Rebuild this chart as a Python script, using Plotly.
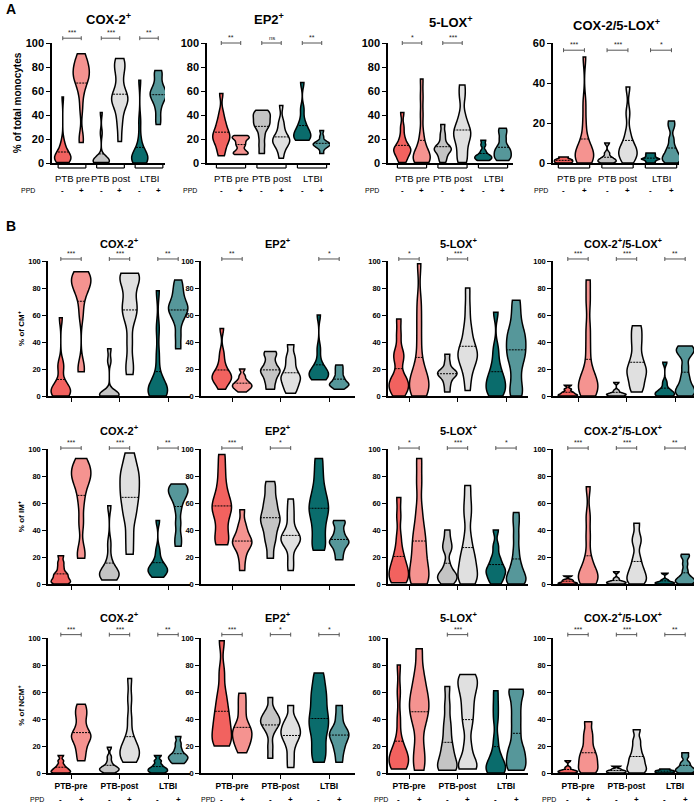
import plotly.graph_objects as go

W, H = 696, 803

groups_a = ["PTB pre", "PTB post", "LTBI"]
groups_b = ["PTB-pre", "PTB-post", "LTBI"]
ppd_signs = ["-", "+"]

titles_a = ["COX-2<sup>+</sup>", "EP2<sup>+</sup>", "5-LOX<sup>+</sup>", "COX-2/5-LOX<sup>+</sup>"]
titles_b = ["COX-2<sup>+</sup>", "EP2<sup>+</sup>", "5-LOX<sup>+</sup>", "COX-2<sup>+</sup>/5-LOX<sup>+</sup>"]
ytitles = ["% of total monocytes", "% of CM<sup>+</sup>", "% of IM<sup>+</sup>", "% of NCM<sup>+</sup>"]

# each panel: [PTB pre -, PTB pre +, PTB post -, PTB post +, LTBI -, LTBI +]
a_cox2 = [
    [0.5, 1, 2, 3, 3, 4, 4, 5, 5, 6, 7, 8, 10, 16, 17, 55],
    [17, 22, 45, 57, 63, 68, 70, 72, 73, 75, 78, 80, 82, 85, 88, 91],
    [0.5, 1, 1, 1.5, 2, 2, 2.5, 3, 3, 25, 42],
    [18, 30, 38, 45, 50, 52, 53, 55, 58, 62, 70, 77, 80, 85, 87],
    [0, 1, 2, 3, 4, 4, 5, 6, 8, 12, 20, 35, 69],
    [32, 38, 45, 50, 53, 55, 57, 58, 60, 62, 65, 70, 75, 77],
]
a_ep2 = [
    [6, 10, 15, 18, 20, 22, 23, 25, 28, 32, 35, 42, 58],
    [7, 8, 9, 11, 14, 16, 18, 20, 21, 22, 23],
    [8, 15, 22, 28, 31, 33, 35, 38, 40, 42, 44],
    [4, 10, 14, 16, 18, 19, 20, 22, 25, 30, 35, 48],
    [19, 20, 21, 23, 25, 27, 30, 35, 45, 67],
    [8, 12, 14, 15, 15, 16, 17, 18, 22, 27],
]
a_lox = [
    [0.5, 3, 6, 9, 10, 11, 12, 14, 17, 22, 30, 42],
    [0.5, 1, 2, 4, 5, 6, 8, 12, 17, 25, 40, 55, 70],
    [0.5, 4, 7, 10, 11, 12, 13, 15, 20, 25, 32],
    [0.5, 5, 12, 18, 22, 25, 28, 32, 40, 55, 65],
    [2, 3, 4, 5, 6, 7, 10, 15, 19],
    [2, 4, 6, 8, 10, 12, 15, 20, 25, 29],
]
a_dual = [
    [0, 0.5, 1, 1.5, 2, 3],
    [0, 1, 2, 3, 4, 5, 6, 8, 12, 20, 30, 53],
    [0, 0.5, 1, 1.5, 2, 3, 5, 10],
    [0, 2, 4, 5, 6, 8, 10, 15, 25, 38],
    [0, 1, 2, 2, 3, 4, 5],
    [0, 1, 2, 3, 4, 6, 8, 12, 18, 21],
]
cm_cox2 = [
    [0, 1, 2, 3, 4, 5, 7, 10, 22, 23, 58],
    [18, 22, 60, 72, 78, 82, 84, 86, 88, 90, 92],
    [0, 0.5, 1, 1, 1.5, 2, 26, 35],
    [16, 25, 40, 55, 62, 65, 70, 78, 85, 88, 90, 91],
    [0, 1, 2, 4, 5, 6, 8, 15, 30, 50, 78],
    [35, 45, 55, 60, 63, 65, 67, 70, 75, 80, 86],
]
cm_ep2 = [
    [5, 9, 12, 13, 14, 15, 17, 20, 25, 32, 50],
    [3, 5, 6, 7, 8, 9, 10, 12, 15, 20],
    [5, 10, 14, 17, 19, 21, 25, 30, 33],
    [2, 6, 9, 12, 14, 16, 20, 25, 30, 38],
    [12, 13, 15, 16, 17, 18, 20, 25, 35, 60],
    [5, 7, 8, 9, 10, 12, 14, 17, 20, 23],
]
cm_lox = [
    [0, 3, 5, 8, 10, 12, 15, 25, 30, 33, 45, 57],
    [0, 2, 5, 8, 10, 13, 17, 25, 40, 55, 70, 98],
    [3, 8, 12, 15, 16, 17, 18, 20, 25, 31],
    [4, 15, 22, 27, 30, 31, 33, 38, 45, 52, 65, 80],
    [0, 2, 5, 8, 11, 14, 18, 25, 35, 62],
    [0, 5, 15, 25, 30, 35, 40, 45, 50, 60, 71],
]
cm_dual = [
    [0, 0.5, 1, 2, 3, 5, 8],
    [0, 2, 5, 8, 10, 13, 20, 35, 50, 70, 86],
    [0, 0.5, 1, 1.5, 2, 4, 10],
    [3, 8, 13, 17, 20, 24, 30, 38, 45, 52],
    [0, 0.5, 1, 2, 3, 5, 10, 25],
    [0, 2, 4, 6, 10, 15, 22, 30, 33, 35, 37],
]
im_cox2 = [
    [0, 1, 2, 3, 5, 7, 8, 12, 16, 21],
    [19, 25, 45, 60, 70, 76, 79, 82, 85, 88, 93],
    [3, 5, 6, 7, 8, 9, 11, 18, 30, 58],
    [22, 35, 48, 55, 62, 67, 72, 78, 82, 88, 97],
    [5, 7, 9, 10, 11, 12, 14, 18, 25, 47],
    [28, 35, 45, 55, 62, 65, 68, 70, 72, 74],
]
im_ep2 = [
    [29, 32, 38, 45, 52, 55, 58, 62, 67, 75, 85, 96],
    [10, 18, 24, 28, 30, 31, 33, 36, 40, 45, 55],
    [19, 30, 36, 42, 47, 48, 52, 58, 62, 70, 76],
    [10, 18, 28, 31, 33, 34, 36, 40, 48, 55, 63],
    [25, 30, 38, 45, 52, 55, 60, 65, 72, 82, 93],
    [18, 23, 27, 30, 31, 33, 36, 40, 45, 47],
]
im_lox = [
    [1, 2, 4, 7, 10, 12, 15, 20, 25, 35, 50, 64],
    [0, 2, 5, 10, 15, 22, 28, 35, 42, 55, 75, 93],
    [0, 2, 4, 6, 7, 9, 15, 25, 28, 33, 40],
    [0, 3, 6, 10, 15, 20, 25, 35, 50, 60, 73],
    [0, 3, 6, 9, 10, 12, 16, 20, 28, 40],
    [0, 1, 3, 5, 8, 12, 17, 25, 35, 45, 53],
]
im_dual = [
    [0, 0.5, 1, 2, 3, 6],
    [0, 2, 4, 6, 8, 12, 20, 35, 50, 72],
    [0, 0.5, 1, 1.5, 2, 4, 9],
    [0, 2, 4, 7, 10, 14, 20, 30, 35, 45],
    [0, 0.5, 1, 1.5, 3, 8],
    [0, 1, 2, 3, 4, 6, 10, 15, 20, 22],
]
ncm_cox2 = [
    [0, 0.5, 1, 2, 3, 4, 6, 9, 13],
    [9, 15, 20, 24, 27, 28, 31, 36, 42, 46, 51],
    [0, 1, 2, 3, 3, 4, 5, 8, 12, 19],
    [8, 10, 12, 15, 17, 19, 22, 28, 40, 55, 70],
    [0, 1, 2, 3, 4, 6, 9, 13],
    [7, 8, 10, 11, 12, 13, 15, 18, 22, 27],
]
ncm_ep2 = [
    [20, 22, 26, 30, 35, 40, 45, 52, 60, 75, 98],
    [15, 20, 23, 26, 29, 31, 34, 38, 45, 52, 59],
    [11, 20, 30, 35, 37, 38, 40, 43, 46, 56],
    [4, 12, 20, 25, 28, 30, 33, 36, 40, 50],
    [8, 15, 22, 30, 35, 40, 45, 52, 58, 65, 74],
    [8, 15, 20, 24, 27, 29, 31, 35, 42, 50],
]
ncm_lox = [
    [3, 5, 6, 8, 10, 13, 15, 18, 25, 40, 60, 80],
    [2, 10, 20, 35, 42, 48, 52, 58, 65, 75, 92],
    [2, 3, 4, 8, 12, 17, 22, 30, 38, 50, 64],
    [3, 5, 8, 20, 35, 44, 52, 60, 65, 70, 73],
    [0, 1, 2, 4, 7, 10, 15, 25, 40, 50, 61],
    [2, 5, 10, 15, 20, 30, 40, 50, 60, 62],
]
ncm_dual = [
    [0, 0.5, 1, 1.5, 2, 4, 9],
    [0, 2, 5, 8, 11, 14, 18, 24, 30, 38],
    [0, 0.5, 1, 1.5, 2, 3, 5],
    [0, 2, 4, 7, 10, 13, 18, 24, 32],
    [0, 0.5, 1, 1.5, 2, 3],
    [0, 1, 2, 3, 4, 6, 8, 12, 15],
]

panels = [
    [a_cox2, a_ep2, a_lox, a_dual],
    [cm_cox2, cm_ep2, cm_lox, cm_dual],
    [im_cox2, im_ep2, im_lox, im_dual],
    [ncm_cox2, ncm_ep2, ncm_lox, ncm_dual],
]
stars = [
    [["***", "***", "**"], ["**", "ns", "**"], ["*", "***", ""], ["***", "***", "*"]],
    [["***", "***", "**"], ["**", "", "*"], ["*", "***", ""], ["***", "***", "**"]],
    [["***", "***", "**"], ["***", "*", ""], ["*", "***", "*"], ["***", "***", "**"]],
    [["***", "***", "**"], ["***", "*", "*"], ["", "***", ""], ["***", "***", "**"]],
]

fills = ["#F2625F", "#F59390", "#C4C4C4", "#E0E0E0", "#0A6C6C", "#56979A"]

# layout geometry in pixels
rows_y = [(43, 163), (261, 396), (449, 584), (638, 773)]
cols_a = [(52, 72, 38.5, 165), (207, 231, 40.5, 330), (388, 412, 40.5, 513), (553, 574, 43.5, 679)]
cols_b = [(48, 71, 48.5, 190), (201, 232, 48.5, 355), (388, 409, 48.5, 528), (553, 578, 48.5, 694)]
title_y = [[19, 19, 22, 25], [243] * 4, [430] * 4, [617] * 4]
bracket_y = [[1.04, 1.0, 1.0, 0.94], [1.015] * 4, [1.007] * 4, [1.025] * 4]
ppd_x = [[28, 190, 372, 541], None, None, [37, 208, 381, 549]]

fig = go.Figure()
shapes = []
annots = []
font_fam = "Liberation Sans, Arial"

for r in range(4):
    top, bot = rows_y[r]
    cols = cols_a if r == 0 else cols_b
    off = 0.24 if r == 0 else 0.21
    vw = 0.42 if r == 0 else 0.40
    for c in range(4):
        k = r * 4 + c + 1
        xs = "x" if k == 1 else f"x{k}"
        ys = "y" if k == 1 else f"y{k}"
        x0, cen, sp, x1 = cols[c]
        ymax = 60 if (r == 0 and c == 3) else 100
        data = panels[r][c]
        for i, vals in enumerate(data):
            g, s = divmod(i, 2)
            pos = g + (off if s else -off)
            bw = max((max(vals) - min(vals)) * 0.09, 0.4)
            fig.add_trace(go.Violin(
                x=[pos] * len(vals), y=vals, xaxis=xs, yaxis=ys,
                fillcolor=fills[i], line=dict(color="black", width=1.5),
                spanmode="hard", scalemode="width", width=vw, points=False,
                bandwidth=bw,
                meanline=dict(visible=True, color="black", width=1),
                showlegend=False, hoverinfo="skip", opacity=1))

        tfs = 11 if r == 0 else 7.5
        xaxis = dict(domain=[x0 / W, x1 / W], range=[(x0 - cen) / sp, (x1 - cen) / sp],
                     anchor=ys, showline=True, linecolor="black", linewidth=1.5,
                     showgrid=False, zeroline=False, fixedrange=True, automargin=False,
                     tickvals=[0, 1, 2], ticks="outside" if r > 0 else "", ticklen=4,
                     tickwidth=1.3, tickcolor="black",
                     ticktext=groups_b if r == 3 else groups_a,
                     showticklabels=(r == 3),
                     tickfont=dict(family=font_fam, size=8.5, color="black", weight="bold"))
        yaxis = dict(domain=[1 - bot / H, 1 - top / H], range=[0, ymax], anchor=xs,
                     showline=True, linecolor="black", linewidth=1.5, showgrid=False,
                     zeroline=False, ticks="outside", ticklen=4, tickwidth=1.3,
                     tickcolor="black", dtick=20, fixedrange=True, automargin=False,
                     tickfont=dict(family=font_fam, size=tfs, color="black", weight="bold"))
        if c == 0:
            yaxis["title"] = dict(text=ytitles[r], standoff=2,
                                  font=dict(family=font_fam, size=10 if r == 0 else 8,
                                            color="black", weight="bold"))
        fig.update_layout({("xaxis" if k == 1 else f"xaxis{k}"): xaxis,
                           ("yaxis" if k == 1 else f"yaxis{k}"): yaxis})

        # panel title
        titles = titles_a if r == 0 else titles_b
        annots.append(dict(text=titles[c], xref="paper", yref="paper",
                           x=(x0 + x1) / 2 / W, y=1 - title_y[r][c] / H,
                           showarrow=False, xanchor="center", yanchor="middle",
                           font=dict(family=font_fam, size=13 if r == 0 else 11,
                                     color="black", weight="bold")))

        # significance brackets
        by = bracket_y[r][c]
        hh = 4 / (bot - top)
        for g, st in enumerate(stars[r][c]):
            if not st:
                continue
            xa, xb = g - off, g + off
            shapes.append(dict(type="line", xref=xs, yref=f"{ys} domain", x0=xa, x1=xb,
                               y0=by, y1=by, line=dict(color="#555", width=1)))
            for xe in (xa, xb):
                shapes.append(dict(type="line", xref=xs, yref=f"{ys} domain", x0=xe, x1=xe,
                                   y0=by - hh / 2, y1=by + hh / 2, line=dict(color="#555", width=1)))
            annots.append(dict(text=st, xref=xs, yref=f"{ys} domain", x=g, y=by,
                               showarrow=False, yanchor="bottom",
                               font=dict(family=font_fam, size=7 if st != "ns" else 6, color="#222")))

        # bottom group brackets and labels in panel A
        if r == 0:
            ph = bot - top
            for g in range(3):
                xa, xb = g - 0.36, g + 0.36
                yb = -5 / ph
                shapes.append(dict(type="line", xref=xs, yref=f"{ys} domain", x0=xa, x1=xb,
                                   y0=yb, y1=yb, line=dict(color="black", width=1.2)))
                for xe in (xa, xb):
                    shapes.append(dict(type="line", xref=xs, yref=f"{ys} domain", x0=xe, x1=xe,
                                       y0=yb, y1=yb + 3 / ph, line=dict(color="black", width=1.2)))
                annots.append(dict(text=groups_a[g], xref=xs, yref=f"{ys} domain", x=g,
                                   y=-15 / ph, showarrow=False, yanchor="middle",
                                   font=dict(family=font_fam, size=9.5, color="black")))

        # PPD row
        if r in (0, 3):
            ph = bot - top
            py = -(27 if r == 0 else 26) / ph
            annots.append(dict(text="PPD", xref="paper", yref=f"{ys} domain",
                               x=ppd_x[r][c] / W, y=py, showarrow=False, xanchor="center",
                               yanchor="middle",
                               font=dict(family=font_fam, size=7, color="black")))
            for g in range(3):
                for s in range(2):
                    annots.append(dict(text=ppd_signs[s], xref=xs, yref=f"{ys} domain",
                                       x=g + (off if s else -off), y=py, showarrow=False,
                                       yanchor="middle",
                                       font=dict(family=font_fam, size=8, color="black", weight="bold")))

annots.append(dict(text="A", xref="paper", yref="paper", x=4 / W, y=1 - 9 / H, showarrow=False,
                   xanchor="left", yanchor="middle",
                   font=dict(family=font_fam, size=14, color="black", weight="bold")))
annots.append(dict(text="B", xref="paper", yref="paper", x=4 / W, y=1 - 226 / H, showarrow=False,
                   xanchor="left", yanchor="middle",
                   font=dict(family=font_fam, size=14, color="black", weight="bold")))

fig.update_layout(width=W, height=H, margin=dict(l=0, r=0, t=0, b=0),
                  paper_bgcolor="white", plot_bgcolor="white", violinmode="overlay",
                  shapes=shapes, annotations=annots, font=dict(family=font_fam))

fig.write_html("out.html", config={"displayModeBar": False},
               post_script="document.body.style.margin = '0';")
